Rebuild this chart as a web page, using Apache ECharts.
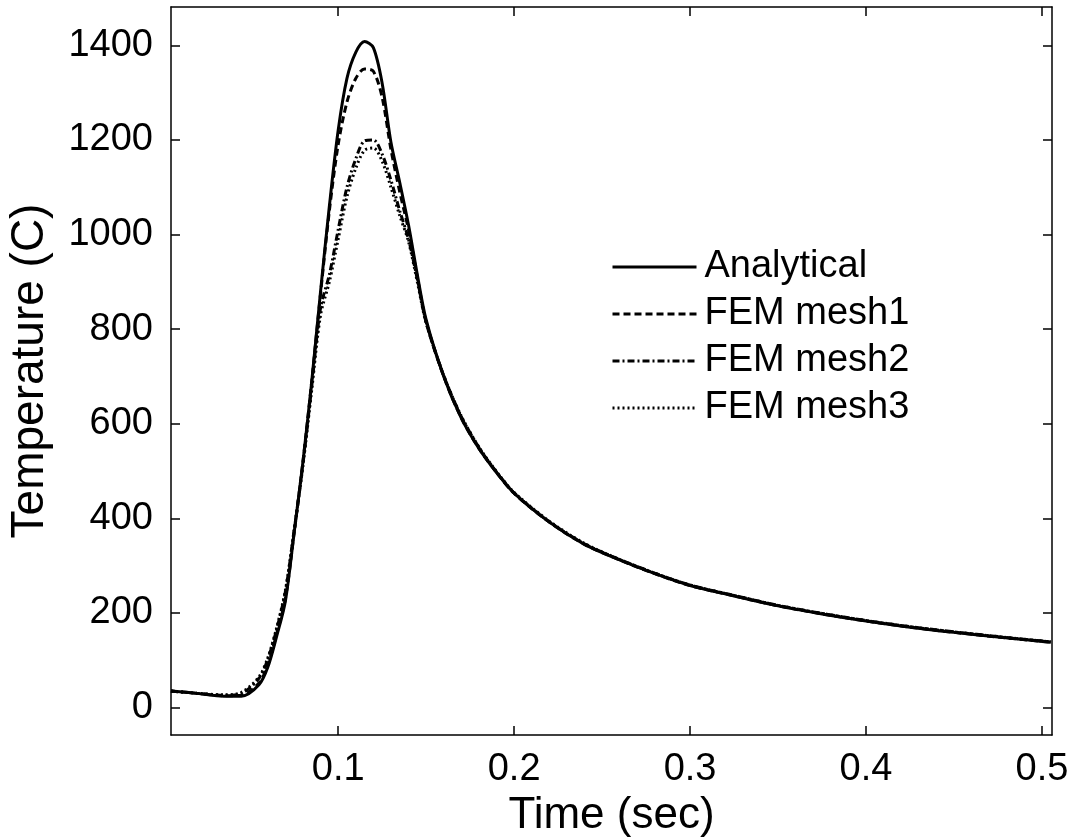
<!DOCTYPE html>
<html>
<head>
<meta charset="utf-8">
<script src="https://cdn.jsdelivr.net/npm/echarts@6/dist/echarts.min.js"></script>
<style>
	html, body { margin: 0; padding: 0; background: #fff; }
	#chart_content { width: 1075px; height: 838px; }
</style>
</head>
<body>
<div id="chart_content"></div>
<script>
// 时间 (sec)
var time_data = [0.005, 0.02, 0.035, 0.045, 0.055, 0.06, 0.065, 0.07, 0.075, 0.08, 0.085, 0.09, 0.095, 0.1, 0.105, 0.11, 0.115, 0.12, 0.125, 0.13, 0.135, 0.14, 0.145, 0.15, 0.16, 0.17, 0.18, 0.19, 0.2, 0.22, 0.24, 0.26, 0.28, 0.3, 0.325, 0.35, 0.375, 0.4, 0.425, 0.45, 0.475, 0.505];
// 温度 (C)
var analytical_data = [35, 30, 24, 24, 48, 85, 150, 225, 370, 520, 690, 880, 1060, 1220, 1330, 1385, 1408, 1395, 1320, 1195, 1110, 1020, 915, 820, 700, 612, 548, 497, 453, 392, 345, 312, 283, 258, 236, 215, 198, 183, 170, 159, 149, 138];
var mesh1_data = [35, 30, 25, 26, 52, 90, 155, 230, 370, 520, 690, 875, 1050, 1190, 1280, 1330, 1350, 1345, 1290, 1180, 1090, 1010, 910, 815, 700, 612, 548, 497, 453, 392, 345, 312, 283, 258, 236, 215, 198, 183, 170, 159, 149, 138];
var mesh2_data = [35, 30, 26, 30, 62, 102, 165, 245, 375, 515, 680, 845, 915, 1010, 1100, 1160, 1198, 1200, 1170, 1115, 1050, 990, 905, 815, 702, 615, 550, 498, 454, 393, 346, 313, 284, 259, 237, 216, 199, 184, 171, 160, 150, 139];
var mesh3_data = [35, 30, 27, 32, 65, 105, 168, 248, 375, 512, 672, 830, 900, 990, 1080, 1140, 1178, 1183, 1155, 1100, 1040, 985, 900, 813, 702, 616, 551, 499, 455, 394, 347, 313, 284, 259, 237, 216, 199, 184, 171, 160, 150, 139];
var series_names = ["Analytical", "FEM mesh1", "FEM mesh2", "FEM mesh3"];
// 刻度
var x_ticks = [0.1, 0.2, 0.3, 0.4, 0.5];
var y_ticks = [0, 200, 400, 600, 800, 1000, 1200, 1400];

var font_name = "'Liberation Sans', Arial, sans-serif";

function pair_data(ys){
	var out = [];
	for(var i = 0; i < time_data.length; i++){
		out.push([time_data[i], ys[i]]);
	}
	return out;
}

function make_axis(position, values, show_label, range){
	return {
		type: "value",
		position: position,
		min: range[0],
		max: range[1],
		axisLine: { show: true, onZero: false, lineStyle: { color: "#000", width: 1.5 } },
		axisTick: { show: true, inside: true, length: 9, customValues: values, lineStyle: { color: "#000", width: 1.5 } },
		axisLabel: {
			show: show_label,
			customValues: values,
			color: "#000",
			fontSize: 38,
			fontFamily: font_name,
			formatter: function(v){ return String(v); }
		},
		splitLine: { show: false }
	};
}

var x_range = [0.005, 0.5057];
var y_range = [-58, 1481];

var x_bottom = make_axis("bottom", x_ticks, true, x_range);
x_bottom.axisLabel.margin = 16;
x_bottom.name = "Time (sec)";
x_bottom.nameLocation = "middle";
x_bottom.nameGap = 52;
x_bottom.nameTextStyle = { color: "#000", fontSize: 44, fontFamily: font_name, verticalAlign: "top" };

var y_left = make_axis("left", y_ticks, true, y_range);
y_left.axisLabel.margin = 18;
y_left.name = "Temperature (C)";
y_left.nameLocation = "middle";
y_left.nameGap = 118;
y_left.nameRotate = 90;
y_left.nameTextStyle = { color: "#000", fontSize: 46, fontFamily: font_name };

var line_types = ["solid", [7, 4], [7, 3, 2, 3], [2, 3]];
var all_data = [analytical_data, mesh1_data, mesh2_data, mesh3_data];
var series_list = [];
for(var i = 0; i < all_data.length; i++){
	series_list.push({
		name: series_names[i],
		type: "line",
		xAxisIndex: 0,
		yAxisIndex: 0,
		symbol: "none",
		smooth: 0.3,
		data: pair_data(all_data[i]),
		lineStyle: { color: "#000", width: 3, type: line_types[i] },
		itemStyle: { color: "#000" }
	});
}

var chart = echarts.init(document.getElementById("chart_content"), null, { renderer: "canvas" });
var option = {
	animation: false,
	backgroundColor: "#fff",
	grid: { left: 171, top: 7, right: 23, bottom: 103, containLabel: false, outerBoundsMode: "none" },
	legend: {
		orient: "vertical",
		left: 606,
		top: 243,
		itemWidth: 84,
		itemHeight: 12,
		itemGap: 9,
		data: series_names,
		itemStyle: { opacity: 0 },
		lineStyle: { width: 3 },
		textStyle: { color: "#000", fontSize: 38, lineHeight: 36, fontFamily: font_name, padding: [0, 0, 0, 3] }
	},
	xAxis: [x_bottom, make_axis("top", x_ticks, false, x_range)],
	yAxis: [y_left, make_axis("right", y_ticks, false, y_range)],
	series: series_list
};
chart.setOption(option);
</script>
</body>
</html>
